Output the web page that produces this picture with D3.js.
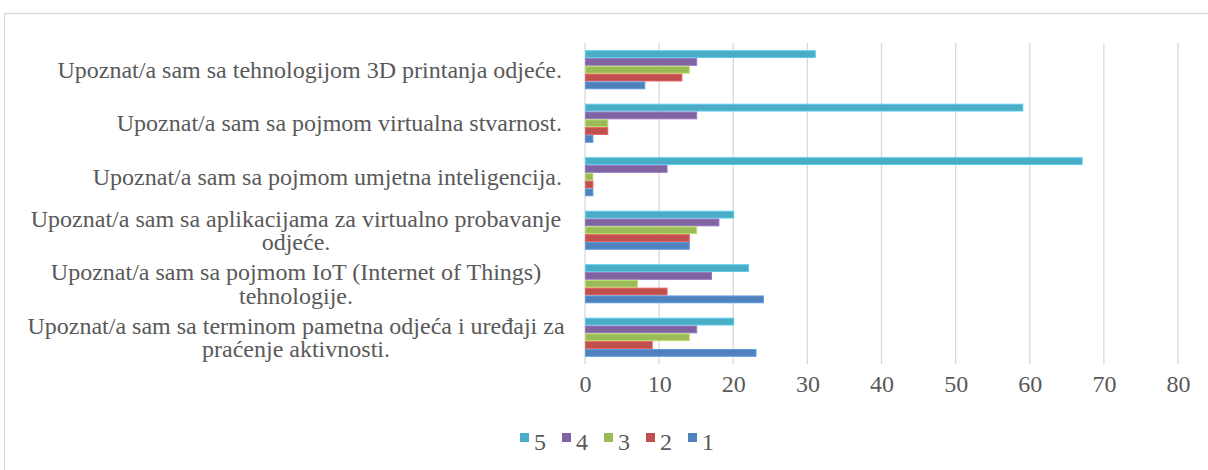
<!DOCTYPE html>
<html>
<head>
<meta charset="utf-8">
<script src="https://cdn.jsdelivr.net/npm/d3@7"></script>
<style>
    body { margin: 0; background: #fff; }
    svg { display: block; }
</style>
</head>
<body>
<div id="chart"></div>
<script>
// categories, top to bottom as shown
var categories = [
    'Upoznat/a sam sa tehnologijom 3D printanja odjeće.',
    'Upoznat/a sam sa pojmom virtualna stvarnost.',
    'Upoznat/a sam sa pojmom umjetna inteligencija.',
    'Upoznat/a sam sa aplikacijama za virtualno probavanje odjeće.',
    'Upoznat/a sam sa pojmom IoT (Internet of Things) tehnologije.',
    'Upoznat/a sam sa terminom pametna odjeća i uređaji za praćenje aktivnosti.'
];

var seriesNames = ['5', '4', '3', '2', '1'];

var values5 = [31, 59, 67, 20, 22, 20];
var values4 = [15, 15, 11, 18, 17, 15];
var values3 = [14, 3, 1, 15, 7, 14];
var values2 = [13, 3, 1, 14, 11, 9];
var values1 = [8, 1, 1, 14, 24, 23];

var xTicks = [0, 10, 20, 30, 40, 50, 60, 70, 80];

var state = {
    width: 1208,
    height: 470,
    plotLeft: 585,
    plotRight: 1178,
    plotTop: 43,
    plotBottom: 364,
    labelRight: 562,
    wrapCenter: 296,
    wrapWidth: 550,
    font: '"Liberation Serif", "Times New Roman", serif',
    fontSize: 24,
    textColor: '#595959',
    gridColor: '#d9d9d9',
    colors: ['#4bacc6', '#8064a2', '#9bbb59', '#c0504d', '#4f81bd']
};

var series = [values5, values4, values3, values2, values1];

draw();

function draw(){
    let svg = d3.select('#chart')
        .append('svg')
            .attr('width', state.width)
            .attr('height', state.height);

    //Outer chart frame
    svg.append('rect')
        .attr('x', 4.5)
        .attr('y', 13.5)
        .attr('width', 1240)
        .attr('height', 500)
        .attr('fill', 'none')
        .attr('stroke', state.gridColor)
        .attr('stroke-width', 1.3);

    let x = d3.scaleLinear()
        .domain([0, 80])
        .range([state.plotLeft, state.plotRight]);

    let y = d3.scaleBand()
        .domain(categories)
        .range([state.plotTop, state.plotBottom])
        .paddingInner(0.27)
        .paddingOuter(0.135);

    let ySub = d3.scaleBand()
        .domain(seriesNames)
        .range([0, y.bandwidth()]);

    //Vertical gridlines
    svg.append('g')
        .selectAll('line')
        .data(xTicks)
        .enter()
        .append('line')
            .attr('x1', d => x(d))
            .attr('x2', d => x(d))
            .attr('y1', state.plotTop)
            .attr('y2', state.plotBottom)
            .attr('stroke', state.gridColor)
            .attr('stroke-width', 1.3);

    //Bars, one group per series
    series.forEach(function(vals, s){
        let c = state.colors[s];
        svg.append('g')
            .selectAll('rect')
            .data(vals)
            .enter()
            .append('rect')
                .attr('x', x(0) + 0.5)
                .attr('y', (d, i) => y(categories[i]) + ySub(seriesNames[s]) + 0.5)
                .attr('width', d => x(d) - x(0))
                .attr('height', ySub.bandwidth() - 1)
                .attr('fill', c)
                .attr('stroke', d3.color(c).brighter(0.5))
                .attr('stroke-width', 1);
    });

    //X axis tick labels
    let xAxis = d3.axisBottom(x)
        .tickValues(xTicks)
        .tickSize(0)
        .tickPadding(0);

    let ax = svg.append('g')
        .attr('transform', 'translate(0,' + 392 + ')')
        .call(xAxis);
    ax.select('.domain').remove();
    ax.selectAll('text')
        .attr('dy', 0)
        .style('font-family', state.font)
        .style('font-size', state.fontSize + 'px')
        .style('fill', state.textColor);

    //Category labels
    let labels = svg.append('g')
        .selectAll('text')
        .data(categories)
        .enter()
        .append('text')
            .style('font-family', state.font)
            .style('font-size', state.fontSize + 'px')
            .style('fill', state.textColor);

    labels.each(function(d){
        wrapLabel(d3.select(this), d, y(d) + y.bandwidth() / 2);
    });

    drawLegend(svg);
}

/**
Splits a label into lines no wider than state.wrapWidth.
Single lines are right aligned, wrapped ones are centred (like the source chart).
*/
function wrapLabel(text, label, cy){
    let words = label.split(' ');
    let lines = [];
    let line = [];
    let probe = text.append('tspan');

    words.forEach(function(w){
        line.push(w);
        probe.text(line.join(' '));
        if(probe.node().getComputedTextLength() > state.wrapWidth && line.length > 1){
            line.pop();
            lines.push(line.join(' '));
            line = [w];
        }
    });
    lines.push(line.join(' '));
    probe.remove();

    let lineHeight = 23.5;
    let first = cy - (lines.length - 1) * lineHeight / 2 + 8;
    let single = lines.length == 1;

    text.attr('text-anchor', single ? 'end' : 'middle');
    lines.forEach(function(l, i){
        text.append('tspan')
            .attr('x', single ? state.labelRight : state.wrapCenter)
            .attr('y', first + i * lineHeight)
            .text(l);
    });
}

function drawLegend(svg){
    let legend = svg.append('g')
        .selectAll('g')
        .data(seriesNames)
        .enter()
        .append('g')
            .attr('transform', (d, i) => 'translate(' + (520 + i * 42) + ',433)');

    legend.append('rect')
        .attr('width', 9)
        .attr('height', 9)
        .attr('fill', (d, i) => state.colors[i]);

    legend.append('text')
        .attr('x', 14)
        .attr('y', 17)
        .style('font-family', state.font)
        .style('font-size', state.fontSize + 'px')
        .style('fill', state.textColor)
        .text(d => d);
}
</script>
</body>
</html>
